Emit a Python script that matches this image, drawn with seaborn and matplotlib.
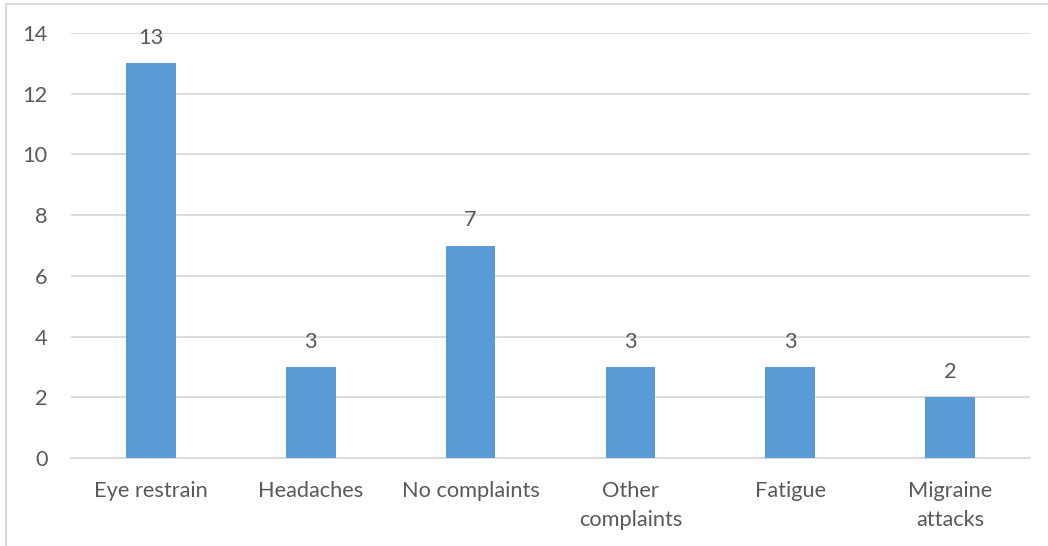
import matplotlib
matplotlib.use("Agg")
import matplotlib.pyplot as plt
import seaborn as sns
import pandas as pd
from matplotlib.lines import Line2D

categories = ["Eye restrain", "Headaches", "No complaints", "Other\ncomplaints", "Fatigue", "Migraine\nattacks"]
counts = [13, 3, 7, 3, 3, 2]
y_ticks = [0, 2, 4, 6, 8, 10, 12, 14]

df = pd.DataFrame({"category": categories, "count": counts})

sns.set_theme(style="white")
plt.rcParams["font.family"] = ["Lato", "DejaVu Sans"]

text_color = "#595959"
grid_color = "#D9D9D9"
bar_color = "#5B9BD5"
font_size = 15.7

fig = plt.figure(figsize=(10.48, 5.46), dpi=100)
ax = fig.add_axes([71 / 1048, 1 - 458 / 546, (1030 - 71) / 1048, (458 - 33) / 546])

sns.barplot(data=df, x="category", y="count", color=bar_color, width=0.31,
            saturation=1, linewidth=0, ax=ax, zorder=3)

ax.set_ylim(0, 14)
ax.set_xlim(-0.5, len(categories) - 0.5)
ax.set_yticks(y_ticks)
ax.set_yticklabels([str(t) for t in y_ticks])
ax.yaxis.grid(True, color=grid_color, linewidth=1.3, zorder=0)
ax.xaxis.grid(False)
for side in ["top", "right", "left"]:
    ax.spines[side].set_visible(False)
ax.spines["bottom"].set_color(grid_color)
ax.spines["bottom"].set_linewidth(1.3)
ax.tick_params(axis="both", length=0, labelsize=font_size, colors=text_color)
ax.tick_params(axis="y", pad=17)
ax.tick_params(axis="x", pad=16.5)
for lbl in ax.get_xticklabels():
    lbl.set_linespacing(1.55)
ax.set_xlabel("")
ax.set_ylabel("")

for container in ax.containers:
    ax.bar_label(container, labels=[str(v) for v in counts], padding=11,
                 fontsize=font_size, color=text_color)

# chart frame (top and left edges)
fig.add_artist(Line2D([6 / 1048, 6 / 1048], [0, 1 - 4 / 546], transform=fig.transFigure,
                      color=grid_color, linewidth=1.5))
fig.add_artist(Line2D([6 / 1048, 1], [1 - 4 / 546, 1 - 4 / 546], transform=fig.transFigure,
                      color=grid_color, linewidth=1.5))

fig.savefig("out.png", dpi=100)
